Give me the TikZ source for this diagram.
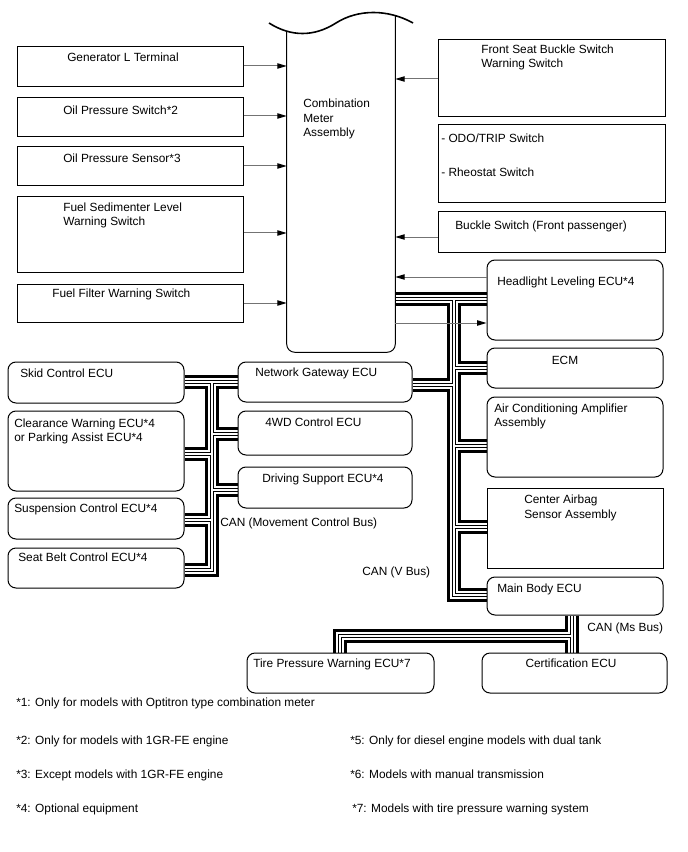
\documentclass[tikz,border=0pt]{standalone}
\usepackage{fontspec}
\setmainfont{Liberation Sans}
\usetikzlibrary{arrows.meta,fit,backgrounds}
\newcommand\tx[5][]{\node[lbl,#1] (#2) at (#3,#4) {#5};}
\newcommand\busnet{
  (meter.east |- 0,299) -- (hl.west |- 0,299)
  (454,299) -- (454,595) -- (mb.west |- 0,595)
  (454,368) -- (ecm.west |- 0,368)
  (454,385) -- (ng.east |- 0,385)
  (454,446) -- (ac.west |- 0,446)
  (454,527) -- (cab.west |- 0,527)
  (skid.east |- 0,382) -- (ng.west |- 0,382)
  (212,382) -- (212,570) -- (sb.east |- 0,570)
  (212,434) -- (wd.west |- 0,434)
  (212,454) -- (cw.east |- 0,454)
  (212,490) -- (ds.west |- 0,490)
  (212,520) -- (sus.east |- 0,520)
  (mb.south -| 572,0) -- (cert.north -| 572,0)
  (572,636) -- (340,636) -- (tire.north -| 340,0)
}
\begin{document}
\begin{tikzpicture}[x=0.75pt,y=-0.75pt,
  every node/.style={font=\fontsize{8.9pt}{10.9pt}\selectfont},
  sq/.style={draw=black, line width=0.75pt, fill=white, inner sep=0pt},
  rd/.style={sq, rounded corners=6pt},
  lbl/.style={anchor=base west, inner sep=0pt},
  arr/.style={draw=black!55, line width=0.75pt, -{Triangle[length=7pt,width=4pt,color=black]}},
]
\useasboundingbox (0,0) rectangle (688,852);

% left input boxes
\node[sq, fit={(17,47) (243,87)}] (gen) {};
\node[sq, fit={(17,98) (243,137)}] (ops) {};
\node[sq, fit={(17,147) (243,186)}] (osn) {};
\node[sq, fit={(17,197) (243,272)}] (fsl) {};
\node[sq, fit={(17,284) (243,322)}] (ffw) {};

% combination meter
\node[inner sep=0pt, fit={(287,22) (395,352)}] (meter) {};
\draw[line width=1.2pt] (269,23) .. controls (291,37) and (314,37) .. (336,23) .. controls (358,9) and (388,9) .. (413,23);
\draw[line width=0.75pt, rounded corners=6pt] (meter.west |- 0,31.3) -- (meter.south west) -- (meter.south east) -- (meter.east |- 0,15.6);

% right input boxes
\node[sq, fit={(438,40) (665,117)}] (fsb) {};
\node[sq, fit={(438,125) (665,203)}] (odo) {};
\node[sq, fit={(438,212) (665,252)}] (bsw) {};

% right ECUs
\node[rd, fit={(487,260) (663,340)}] (hl) {};
\node[rd, fit={(487,348) (663,388)}] (ecm) {};
\node[rd, fit={(487,397) (663,477)}] (ac) {};
\node[sq, fit={(487,488) (663,568)}] (cab) {};
\node[rd, fit={(487,577) (663,615)}] (mb) {};

% middle ECUs
\node[rd, fit={(238,362) (412,402)}] (ng) {};
\node[rd, fit={(238,411) (412,455)}] (wd) {};
\node[rd, fit={(238,467) (412,508)}] (ds) {};

% left ECUs
\node[rd, fit={(8,362) (184,403)}] (skid) {};
\node[rd, fit={(8,411) (184,491)}] (cw) {};
\node[rd, fit={(8,498) (184,539)}] (sus) {};
\node[rd, fit={(8,548) (184,588)}] (sb) {};

% bottom ECUs
\node[rd, fit={(247,653) (434,693)}] (tire) {};
\node[rd, fit={(482,653) (667,693)}] (cert) {};

% buses
\begin{scope}[on background layer]
  \fill[white] (0,0) rectangle (688,852);
  \draw[line width=10.5pt] \busnet;
  \draw[line width=6pt, white] \busnet;
  \draw[line width=3.3pt] \busnet;
  \draw[line width=1.5pt, white] \busnet;
\end{scope}

% arrows
\draw[arr] (gen.east |- 0,66) -- (meter.west |- 0,66);
\draw[arr] (ops.east |- 0,116) -- (meter.west |- 0,116);
\draw[arr] (osn.east |- 0,166) -- (meter.west |- 0,166);
\draw[arr] (fsl.east |- 0,233) -- (meter.west |- 0,233);
\draw[arr] (ffw.east |- 0,303) -- (meter.west |- 0,303);
\draw[arr] (fsb.west |- 0,79) -- (meter.east |- 0,79);
\draw[arr] (bsw.west |- 0,237) -- (meter.east |- 0,237);
\draw[arr] (hl.west |- 0,277) -- (meter.east |- 0,277);
\draw[arr] (meter.east |- 0,323) -- (hl.west |- 0,323);

% texts
\tx{t1}{67}{61.5}{Generator L Terminal}
\tx{t2}{63}{114.5}{Oil Pressure Switch*2}
\tx{t3}{63}{162.5}{Oil Pressure Sensor*3}
\tx{t4}{63}{211.5}{Fuel Sedimenter Level}
\tx{t5}{63}{225.5}{Warning Switch}
\tx{t6}{52}{297.5}{Fuel Filter Warning Switch}
\tx{t7}{303}{108}{Combination}
\tx{t8}{303}{122.5}{Meter}
\tx{t9}{303}{137}{Assembly}
\tx{t10}{481}{53.5}{Front Seat Buckle Switch}
\tx{t11}{481}{68}{Warning Switch}
\tx{t12}{441}{142.5}{- ODO/TRIP Switch}
\tx{t13}{441}{176.5}{- Rheostat Switch}
\tx{t14}{455}{229.5}{Buckle Switch (Front passenger)}
\tx{t15}{497}{285.5}{Headlight Leveling ECU*4}
\tx[anchor=base]{t16}{565}{364.5}{ECM}
\tx{t17}{494}{412.5}{Air Conditioning Amplifier}
\tx{t18}{494}{426.5}{Assembly}
\tx{t19}{524}{503.5}{Center Airbag}
\tx{t20}{524}{518.5}{Sensor Assembly}
\tx{t21}{497}{592.5}{Main Body ECU}
\tx{t22}{255}{376.5}{Network Gateway ECU}
\tx{t23}{265}{426.5}{4WD Control ECU}
\tx{t24}{262}{482.5}{Driving Support ECU*4}
\tx{t25}{20}{377.5}{Skid Control ECU}
\tx{t26}{14}{427.5}{Clearance Warning ECU*4}
\tx{t27}{14}{441.5}{or Parking Assist ECU*4}
\tx{t28}{14}{512.5}{Suspension Control ECU*4}
\tx{t29}{18}{561.5}{Seat Belt Control ECU*4}
\tx{t30}{253}{667.5}{Tire Pressure Warning ECU*7}
\tx[anchor=base]{t31}{571}{667.5}{Certification ECU}
\tx{t32}{220}{526.5}{CAN (Movement Control Bus)}
\tx{t33}{362}{575.5}{CAN (V Bus)}
\tx{t34}{587}{631.5}{CAN (Ms Bus)}
\tx{t35}{16}{706.5}{*1: Only for models with Optitron type combination meter}
\tx{t36}{16}{744.5}{*2: Only for models with 1GR-FE engine}
\tx{t37}{350}{744.5}{*5: Only for diesel engine models with dual tank}
\tx{t38}{16}{778.5}{*3: Except models with 1GR-FE engine}
\tx{t39}{350}{778.5}{*6: Models with manual transmission}
\tx{t40}{16}{812.5}{*4: Optional equipment}
\tx{t41}{352}{812.5}{*7: Models with tire pressure warning system}
\end{tikzpicture}
\end{document}
